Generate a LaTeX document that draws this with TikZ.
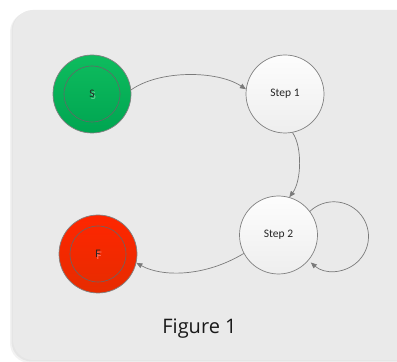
\documentclass[tikz,border=0pt]{standalone}
\usepackage{fontspec}
\setmainfont{Carlito}
\newfontfamily\captionfont{Open Sans}
\usetikzlibrary{arrows.meta}

\definecolor{panelfill}{HTML}{EAEAEA}
\definecolor{ringgray}{HTML}{808080}
\definecolor{linkgray}{HTML}{7A7A7A}
\definecolor{textdark}{HTML}{262626}
\definecolor{steptop}{HTML}{FDFDFD}
\definecolor{stepbot}{HTML}{EEEEEE}
\definecolor{greentop}{HTML}{0EBC5E}
\definecolor{greenbot}{HTML}{00A551}
\definecolor{greenshade}{HTML}{6FD29A}
\definecolor{redtop}{HTML}{FF2600}
\definecolor{redbot}{HTML}{E62C00}
\definecolor{redshade}{HTML}{FF7A6A}

\begin{document}
\begin{tikzpicture}[x=1pt,y=1pt,
  state/.style={circle, minimum size=78pt, inner sep=0pt, draw=ringgray,
    line width=0.7pt, font=\fontsize{11.5}{13}\selectfont, text=textdark},
  stepstate/.style={state, top color=steptop, bottom color=stepbot},
  startstate/.style={state, top color=greentop, bottom color=greenbot},
  finalstate/.style={state, top color=redtop, bottom color=redbot},
  innerring/.style={draw=ringgray!80!black, line width=0.6pt},
  glyphshade/.style={font=\fontsize{11.5}{13}\selectfont, inner sep=0pt},
  link/.style={draw=linkgray, line width=0.7pt,
    -{Triangle[length=6pt,width=5pt]}},
]
\useasboundingbox (0,0) rectangle (397,362);
\fill[white] (0,0) rectangle (397,362);

% panel with a soft shadow on its left and lower edges
\begin{scope}
  \clip (0,0) rectangle (397,362);
  \fill[black, opacity=0.05, rounded corners=20pt]
    (420,350) -- (10,350) -- (10,-1) -- (420,-1) -- cycle;
  \fill[black, opacity=0.05, rounded corners=20pt]
    (420,351) -- (11.5,351) -- (11.5,0.5) -- (420,0.5) -- cycle;
  \fill[panelfill, rounded corners=20pt]
    (420,352) -- (13,352) -- (13,2) -- (420,2) -- cycle;
\end{scope}

% states
\node[startstate] (S) at (92,268) {};
\draw[innerring] (S.center) circle[radius=28];
\node[glyphshade, text=greenshade] (Sshade) at (93.2,266.6) {S};
\node[glyphshade, text=textdark] (Slabel) at (92,268) {S};

\node[stepstate] (Step1) at (285,268) {Step 1};
\node[stepstate] (Step2) at (278.5,127) {Step 2};

\node[finalstate] (F) at (98,108) {};
\draw[innerring] (F.center) circle[radius=28];
\node[glyphshade, text=redshade] (Fshade) at (99.2,106.6) {F};
\node[glyphshade, text=textdark] (Flabel) at (98,108) {F};

% transitions
\draw[link] (S.6) .. controls +(28,20) and +(-29,19) .. (Step1.173);
\draw[link] (Step1.281) .. controls +(10,-14) and +(12,16) .. (Step2.74);
\draw[link] (Step2.37) arc[start angle=133.5, end angle=-131.5, radius=34.7];
\draw[link] (Step2.208) .. controls +(-40,-24) and +(25,-14) .. (F.347);

% caption
\node[font=\captionfont\fontsize{20}{24}\selectfont, text=black!90,
  anchor=base] (caption) at (199.5,28.7) {Figure 1};
\end{tikzpicture}
\end{document}
